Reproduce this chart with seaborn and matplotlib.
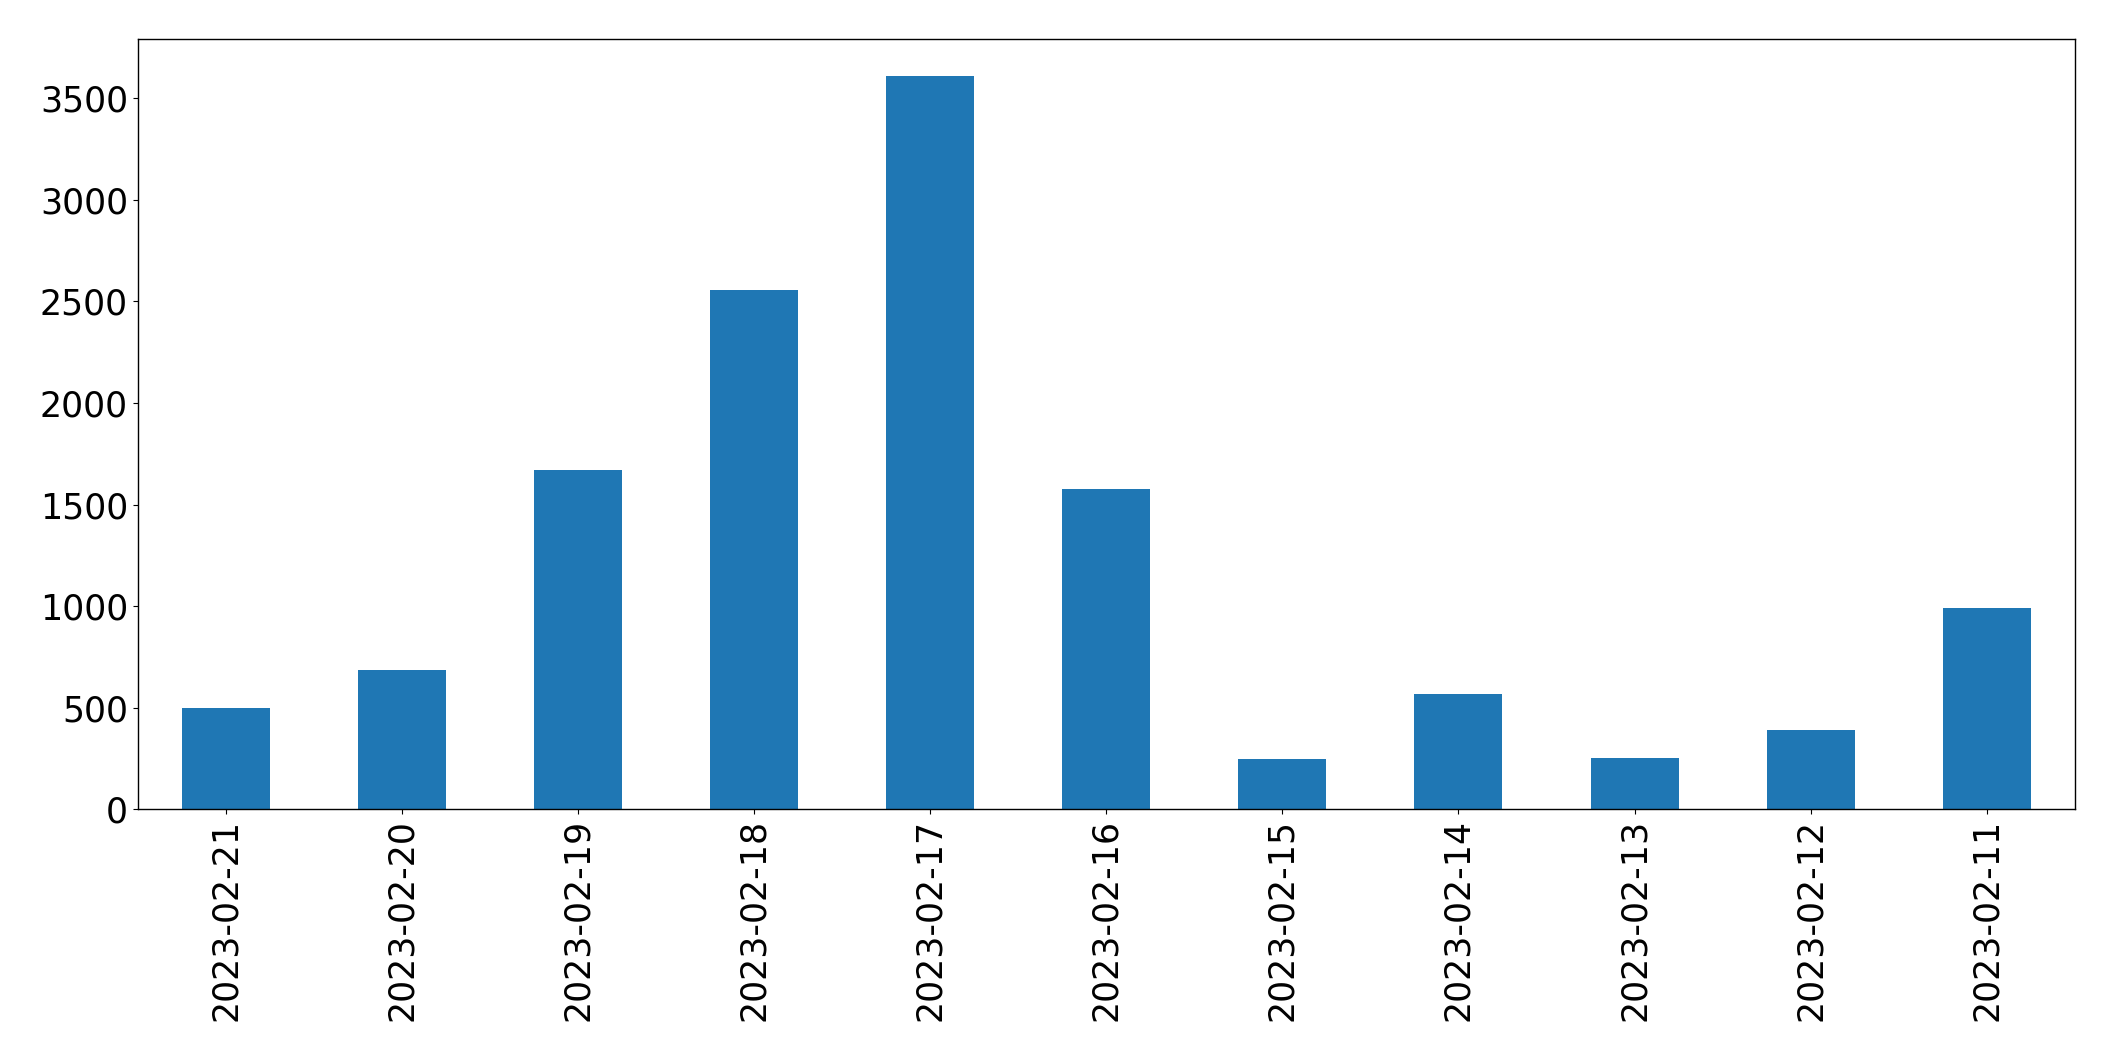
import matplotlib
matplotlib.use("Agg")
import matplotlib.pyplot as plt
import seaborn as sns
import pandas as pd

dates = ["2023-02-21", "2023-02-20", "2023-02-19", "2023-02-18", "2023-02-17",
         "2023-02-16", "2023-02-15", "2023-02-14", "2023-02-13", "2023-02-12",
         "2023-02-11"]
counts = [500, 685, 1670, 2555, 3610, 1575, 250, 570, 255, 390, 990]

df = pd.DataFrame({"date": dates, "count": counts})

fig = plt.figure(figsize=(21.15, 10.61), dpi=100)
ax = fig.add_axes([0.0651, 0.2372, 0.9159, 0.7259])
sns.barplot(data=df, x="date", y="count", order=dates, color="#1f77b4",
            saturation=1, width=0.5, linewidth=0, ax=ax)
ax.set_xlim(-0.5, len(dates) - 0.5)
ax.set_ylim(0, max(counts) * 1.05)
ax.set_xlabel("")
ax.set_ylabel("")
ax.tick_params(axis="both", labelsize=25)
ax.tick_params(axis="x", labelrotation=90)
for s in ax.spines.values():
    s.set_visible(True)
    s.set_color("black")
    s.set_linewidth(1.0)
fig.savefig("out.png", dpi=100)
